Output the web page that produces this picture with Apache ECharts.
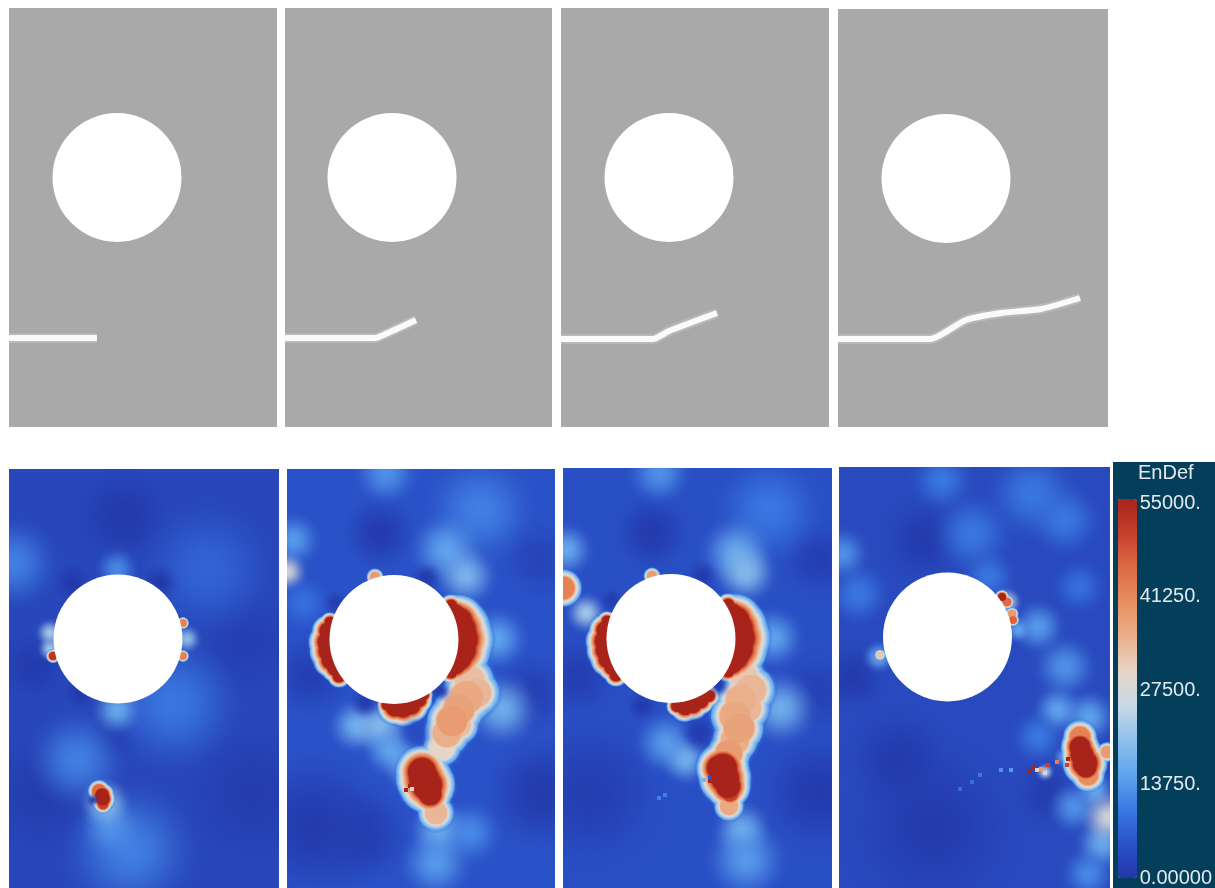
<!DOCTYPE html>
<html>
<head>
<meta charset="utf-8">
<style>
    html, body { margin: 0; padding: 0; background: #fff; }
    #main { width: 1215px; height: 888px; }
</style>
<script src="https://cdn.jsdelivr.net/npm/echarts@6/dist/echarts.min.js"></script>
</head>
<body>
<div id="main"></div>
<script>
// colour scale, one colour every 5000 of EnDef
var colorScale = ['#2236a8', '#2a52c8', '#3a78e2', '#60a4ee', '#8fc0ea', '#c8d9e6',
    '#e6d5c6', '#eab08c', '#e88f60', '#dd6b45', '#c5402d', '#a8231a'];
var maxValue = 55000;
var tickLabels = { 0: '0.00000', 13750: '13750.', 27500: '27500.', 41250: '41250.', 55000: '55000.' };

// damage maps: crack path [x, y] and hole [x, y, radius], mesh units from top left
var crack1 = [[0, 330], [88, 330]];
var crack2 = [[0, 330], [90, 330], [105, 324], [131, 312]];
var crack3 = [[0, 331], [92, 331], [108, 323], [156, 305]];
var crack4 = [[0, 330], [92, 330], [128, 311], [163, 304], [203, 300], [242, 289]];
var holeTop1 = [[108, 169.5, 64.5]];
var holeTop2 = [[107, 169.5, 64.5]];
var holeTop3 = [[108, 169.5, 64.5]];
var holeTop4 = [[108, 169.5, 64.5]];
var holeBottom1 = [[109, 170, 64.5]];
var holeBottom2 = [[107, 170.5, 64.5]];
var holeBottom3 = [[108, 170.5, 64.5]];
var holeBottom4 = [[108.5, 170, 64.5]];

// EnDef field level outside the zones below
var fieldLevel1 = 3000;
var fieldLevel2 = 5000;
var fieldLevel3 = 4500;
var fieldLevel4 = 3500;

// EnDef zones: [x, y, radius, value]
var zones1 = [
    [114, 47, 55, 500], [238, 174, 60, 1500], [244, 324, 80, 1000], [34, 324, 70, 1000], [24, 197, 40, 800],
    [4, 94, 50, 11000], [198, 100, 75, 7500], [164, 234, 75, 10000], [104, 270, 30, 1500],
    [68, 291, 55, 11000], [121, 381, 75, 11000], [101, 357, 34, 13000],
    [108, 100, 24, 12000], [108, 241, 28, 16000], [41, 164, 16, 22000], [41, 180, 14, 22000], [178, 170, 16, 20000], [96, 334, 28, 20000],
    [151, 114, 22, 200], [64, 114, 22, 300], [71, 224, 18, 300], [84, 331, 8, 500],
    [44, 187, 8, 52000], [174, 154, 7, 42000], [174, 187, 7, 42000],
    [90, 322, 13, 45000], [93, 326, 14, 55000], [94, 330, 14, 55000], [94, 335, 11, 50000]
];
var zones2 = [
    [93, 64, 45, 800], [253, 91, 50, 2500], [246, 224, 50, 1800], [256, 324, 70, 700], [23, 207, 50, 1500],
    [26, 357, 90, 800], [76, 367, 60, 1200],
    [99, 4, 35, 13000], [193, 41, 60, 11000], [159, 81, 40, 15000], [179, 107, 34, 18000],
    [6, 71, 30, 14000], [0, 103, 22, 27000], [16, 134, 30, 9000],
    [69, 257, 30, 17000], [93, 257, 32, 19000], [103, 281, 30, 15000], [123, 297, 30, 17000], [129, 264, 20, 3500],
    [153, 361, 34, 17000], [149, 394, 40, 14000], [183, 364, 35, 12000], [215, 240, 40, 17000], [210, 170, 34, 15000],
    [139, 109, 18, 500], [49, 134, 15, 1000], [78, 234, 18, 800],
    [183, 212, 30, 33000], [190, 224, 28, 34000], [180, 228, 32, 36000], [172, 240, 30, 37000], [165, 252, 30, 38000],
    [160, 264, 28, 35000], [172, 256, 24, 33000], [155, 278, 24, 30000], [149, 344, 22, 34000], [88, 108, 10, 38000],
    [154, 222, 13, 800],
    [164, 137, 13, 55000], [168, 146, 22, 55000], [171, 153, 31, 55000], [172, 161, 36, 55000], [173, 170, 38, 55000],
    [172, 180, 36, 55000], [171, 188, 29, 55000], [168, 195, 22, 55000], [164, 203, 13, 55000],
    [43, 153, 11, 55000], [41, 162, 18, 55000], [41, 173, 22, 55000], [42, 182, 22, 55000], [44, 191, 20, 55000],
    [48, 199, 16, 55000], [52, 207, 13, 55000],
    [100, 236, 11, 55000], [108, 238, 20, 55000], [116, 238, 22, 55000], [124, 236, 20, 55000], [132, 231, 15, 55000], [137, 226, 10, 55000],
    [135, 303, 30, 55000], [137, 310, 32, 55000], [140, 316, 32, 55000], [143, 325, 24, 55000]
];
var zones3 = [
    [89, 65, 45, 800], [256, 92, 45, 1500], [253, 225, 50, 2000], [256, 325, 70, 800], [13, 208, 50, 1200],
    [26, 325, 90, 1200],
    [96, 5, 35, 13000], [206, 42, 60, 10000], [173, 85, 40, 16000], [183, 105, 34, 19000],
    [3, 82, 30, 16000], [23, 145, 22, 22000], [103, 275, 35, 14000], [123, 292, 28, 17000],
    [179, 362, 32, 17000], [183, 392, 45, 14000], [218, 240, 40, 17000], [210, 170, 34, 15000],
    [136, 265, 22, 800], [79, 238, 18, 700], [49, 132, 15, 1000], [139, 108, 18, 500],
    [0, 120, 22, 42000], [181, 208, 26, 32000], [188, 222, 30, 34000], [178, 232, 30, 35000], [184, 240, 28, 34000],
    [172, 248, 30, 36000], [176, 260, 30, 37000], [172, 272, 28, 35000], [166, 285, 26, 38000], [166, 338, 18, 36000], [89, 108, 10, 38000],
    [156, 218, 13, 800],
    [165, 137, 13, 55000], [169, 146, 22, 55000], [172, 153, 31, 55000], [173, 161, 36, 55000], [174, 170, 38, 55000],
    [173, 180, 36, 55000], [172, 188, 29, 55000], [169, 195, 22, 55000], [165, 203, 13, 55000],
    [44, 153, 11, 55000], [42, 162, 18, 55000], [42, 173, 22, 55000], [43, 182, 22, 55000], [45, 191, 20, 55000],
    [49, 199, 16, 55000], [53, 207, 13, 55000],
    [114, 238, 12, 55000], [122, 239, 17, 55000], [130, 237, 17, 55000], [138, 233, 15, 55000], [146, 228, 12, 55000],
    [156, 300, 26, 55000], [160, 300, 30, 55000], [162, 310, 30, 55000], [165, 318, 26, 55000], [167, 325, 18, 50000]
];
var zones4 = [
    [86, 73, 50, 800], [93, 360, 100, 800], [59, 293, 60, 800], [13, 210, 40, 700], [209, 327, 40, 1000],
    [3, 87, 30, 13000], [133, 67, 45, 10000], [193, 27, 50, 10000], [103, 13, 35, 10000], [226, 53, 40, 10000],
    [19, 127, 35, 10000], [199, 160, 30, 14000], [226, 200, 35, 13000], [219, 243, 28, 15000], [150, 110, 30, 10000],
    [240, 120, 30, 9000], [250, 250, 30, 15000], [199, 270, 30, 10000], [235, 340, 30, 13000],
    [179, 163, 14, 15000], [168, 135, 16, 25000], [40, 190, 18, 16000],
    [256, 323, 22, 16000], [263, 377, 30, 16000], [249, 407, 30, 12000], [269, 350, 30, 27000],
    [206, 305, 10, 24000], [225, 290, 12, 15000],
    [41, 188, 7, 32000], [173, 147, 8, 38000], [168, 135, 8, 45000], [174, 153, 7, 46000], [163, 130, 8, 55000],
    [241, 270, 20, 42000], [249, 308, 20, 40000], [268, 285, 12, 38000],
    [241, 280, 22, 55000], [243, 288, 24, 55000], [246, 296, 26, 55000], [247, 300, 22, 55000]
];

// single mesh cells along the crack: [x, y, value]
var cells2 = [[119, 321, 55000], [123, 317, 55000], [125, 320, 27000]];
var cells3 = [[147, 313, 55000], [147, 310, 5000], [141, 312, 18000], [96, 330, 11000], [102, 327, 11000]];
var cells4 = [[191, 304, 55000], [194, 301, 55000], [209, 298, 50000], [218, 295, 42000], [228, 298, 50000],
    [229, 292, 55000], [202, 302, 38000], [206, 306, 27000], [198, 303, 30000], [172, 303, 14000],
    [162, 303, 13000], [141, 308, 10000], [133, 315, 9000], [121, 322, 9000]];

function valueColor(v, alpha) {
    var c = echarts.color.lerp(Math.min(v, maxValue) / maxValue, colorScale);
    return echarts.color.modifyAlpha(c, alpha);
}

function softFill(v) {
    var stops = [];
    for (var i = 0; i <= 10; i++) {
        stops.push({ offset: i / 10, color: valueColor(v, 0.48 * (1 + Math.cos(Math.PI * i / 10))) });
    }
    return { type: 'radial', x: 0.5, y: 0.5, r: 0.5, colorStops: stops };
}

// soft zones fade out; hot ones are stacked contours, lowest first, so overlapping zones merge
function contourList(zones, level) {
    var list = [];
    zones.forEach(function (z) {
        var v = z[3];
        if (v < 28000) {
            var key = v >= level ? -1 : (z[2] <= 25 ? 1e6 : -2);
            list.push({ key: key, item: [z[0], z[1], z[2], v, 0] });
            return;
        }
        var flat = v >= 50000 ? 0.45 : 0.5;
        for (var L = 9000; L < v; L += 1500) {
            var q = Math.pow((v - L) / (v - level), 1.25);
            list.push({ key: L, item: [z[0], z[1], z[2] * (flat + (1 - flat) * q), L, L < 15000 ? 0.15 : 1] });
        }
        list.push({ key: v, item: [z[0], z[1], z[2] * flat, v, 1] });
    });
    list.sort(function (a, b) { return a.key - b.key; });
    return list.map(function (d) { return d.item; });
}

function fieldSeries(index, zones, level) {
    return {
        type: 'custom',
        xAxisIndex: index,
        yAxisIndex: index,
        clip: true,
        z: 2,
        silent: true,
        progressive: 0,
        data: contourList(zones, level),
        renderItem: function (params, api) {
            var c = api.coord([api.value(0), api.value(1)]);
            var v = api.value(3);
            var a = api.value(4);
            return {
                type: 'circle',
                shape: { cx: c[0], cy: c[1], r: api.value(2) },
                style: { fill: a ? valueColor(v, a) : softFill(v) }
            };
        }
    };
}

function holeSeries(index, hole) {
    return {
        type: 'scatter',
        xAxisIndex: index,
        yAxisIndex: index,
        z: 5,
        silent: true,
        data: hole,
        symbol: 'circle',
        symbolSize: function (d) { return d[2] * 2; },
        itemStyle: { color: '#fff', opacity: 1 }
    };
}

function crackSeries(index, crack) {
    return [
        { type: 'line', xAxisIndex: index, yAxisIndex: index, z: 2, silent: true, data: crack, symbol: 'none', smooth: 0.2,
            lineStyle: { color: '#b8b8b8', width: 10, cap: 'butt', join: 'round' } },
        { type: 'line', xAxisIndex: index, yAxisIndex: index, z: 3, silent: true, data: crack, symbol: 'none', smooth: 0.2,
            lineStyle: { color: '#fafafa', width: 6, cap: 'butt', join: 'round' } }
    ];
}

function cellSeries(index, cells) {
    return {
        type: 'scatter',
        xAxisIndex: index,
        yAxisIndex: index,
        z: 4,
        silent: true,
        data: cells,
        symbol: 'rect',
        symbolSize: 4,
        itemStyle: { opacity: 1 }
    };
}

var panels = [
    { left: 9, top: 8, width: 268, height: 419, color: '#a9a9a9' },
    { left: 285, top: 8, width: 267, height: 419, color: '#a9a9a9' },
    { left: 561, top: 8, width: 268, height: 419, color: '#a9a9a9' },
    { left: 838, top: 9, width: 270, height: 418, color: '#a9a9a9' },
    { left: 9, top: 469, width: 270, height: 419, color: valueColor(fieldLevel1, 1) },
    { left: 287, top: 469, width: 268, height: 419, color: valueColor(fieldLevel2, 1) },
    { left: 563, top: 468, width: 269, height: 420, color: valueColor(fieldLevel3, 1) },
    { left: 839, top: 467, width: 271, height: 421, color: valueColor(fieldLevel4, 1) }
];

var grids = [];
var xAxes = [];
var yAxes = [];
panels.forEach(function (p) {
    grids.push({ left: p.left, top: p.top, width: p.width, height: p.height, show: true,
        backgroundColor: p.color, borderWidth: 0 });
    xAxes.push({ type: 'value', min: 0, max: p.width, show: false, gridIndex: grids.length - 1 });
    yAxes.push({ type: 'value', min: 0, max: p.height, inverse: true, show: false, gridIndex: grids.length - 1 });
});

// colour bar axis, only carries the tick labels
grids.push({ left: 1118, top: 503, width: 19, height: 379 });
xAxes.push({ type: 'value', min: 0, max: 1, show: false, gridIndex: 8 });
yAxes.push({
    type: 'value', min: 0, max: maxValue, interval: 13750, position: 'right', gridIndex: 8,
    axisLine: { show: false }, axisTick: { show: false }, splitLine: { show: false },
    axisLabel: {
        margin: 4, fontSize: 20, color: '#e4e9ec', fontFamily: 'Liberation Sans',
        formatter: function (v) { return tickLabels[v]; }
    }
});

var series = [
    crackSeries(0, crack1), holeSeries(0, holeTop1),
    crackSeries(1, crack2), holeSeries(1, holeTop2),
    crackSeries(2, crack3), holeSeries(2, holeTop3),
    crackSeries(3, crack4), holeSeries(3, holeTop4),
    fieldSeries(4, zones1, fieldLevel1), holeSeries(4, holeBottom1),
    fieldSeries(5, zones2, fieldLevel2), holeSeries(5, holeBottom2),
    fieldSeries(6, zones3, fieldLevel3), holeSeries(6, holeBottom3),
    fieldSeries(7, zones4, fieldLevel4), holeSeries(7, holeBottom4)
].reduce(function (a, b) { return a.concat(b); }, []);

var cellStart = series.length;
series.push(cellSeries(5, cells2), cellSeries(6, cells3), cellSeries(7, cells4));

var chart = echarts.init(document.getElementById('main'), null, { renderer: 'canvas' });
chart.setOption({
    animation: false,
    backgroundColor: '#fff',
    title: {
        text: 'EnDef', left: 1138, top: 463, padding: 0,
        textStyle: { fontSize: 20, fontWeight: 'normal', color: '#e4e9ec', fontFamily: 'Liberation Sans' }
    },
    graphic: [{
        type: 'rect', left: 1113, top: 462, z: -1, silent: true,
        shape: { width: 102, height: 426 },
        style: { fill: '#033e5a' }
    }],
    grid: grids,
    xAxis: xAxes,
    yAxis: yAxes,
    visualMap: {
        type: 'continuous',
        min: 0,
        max: maxValue,
        seriesIndex: [cellStart, cellStart + 1, cellStart + 2],
        dimension: 2,
        calculable: false,
        realtime: false,
        padding: 0,
        left: 1118,
        top: 499,
        itemWidth: 19,
        itemHeight: 379,
        inRange: { color: colorScale }
    },
    series: series
});
</script>
</body>
</html>
